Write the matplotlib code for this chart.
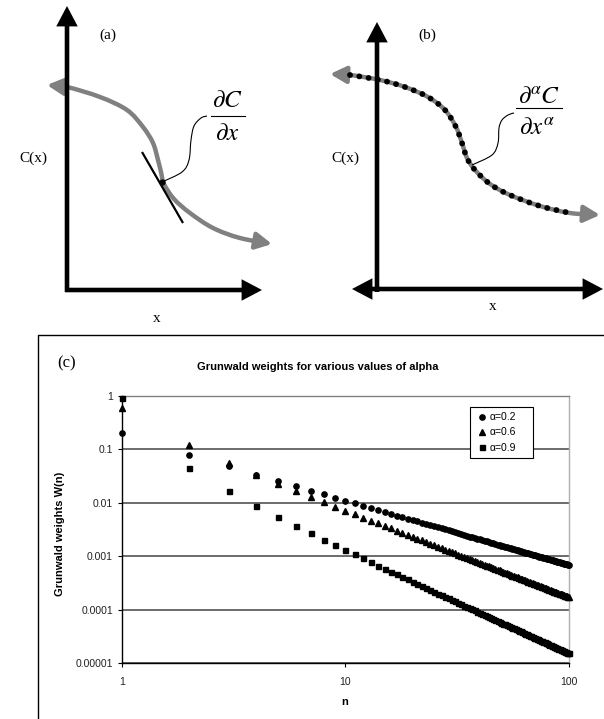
import numpy as np
import matplotlib
matplotlib.use('Agg')
import matplotlib.pyplot as plt
from matplotlib.path import Path
from matplotlib.patches import FancyArrowPatch, PathPatch
from matplotlib.ticker import NullLocator

plt.rcParams['font.family'] = 'Liberation Sans'
plt.rcParams['mathtext.fontset'] = 'stix'
SERIF = 'Liberation Serif'

# ---- panel (c) data: Grunwald weights W(n), n = 1..100 ----
n = np.arange(1, 101)
w_02 = [0.2, 0.08, 0.048, 0.0336, 0.02554, 0.02043, 0.01693, 0.01439, 0.01247, 0.01097,
        0.009776, 0.008799, 0.007987, 0.007302, 0.006718, 0.006214, 0.005775, 0.005390, 0.005050, 0.004747,
        0.004476, 0.004232, 0.004011, 0.003810, 0.003627, 0.003460, 0.003306, 0.003164, 0.003033, 0.002912,
        0.002799, 0.002694, 0.002596, 0.002504, 0.002418, 0.002338, 0.002262, 0.002191, 0.002123, 0.002060,
        0.002000, 0.001943, 0.001889, 0.001837, 0.001788, 0.001741, 0.001697, 0.001654, 0.001614, 0.001575,
        0.001538, 0.001502, 0.001468, 0.001435, 0.001404, 0.001374, 0.001345, 0.001317, 0.001290, 0.001264,
        0.001239, 0.001215, 0.001192, 0.001170, 0.001148, 0.001127, 0.001107, 0.001087, 0.001068, 0.001050,
        0.001032, 0.001015, 0.000998, 0.000982, 0.000966, 0.000951, 0.000936, 0.000922, 0.000908, 0.000894,
        0.000881, 0.000868, 0.000855, 0.000843, 0.000831, 0.000819, 0.000808, 0.000797, 0.000786, 0.000776,
        0.000766, 0.000756, 0.000746, 0.000737, 0.000727, 0.000718, 0.000709, 0.000701, 0.000692, 0.000684]
w_06 = [0.6, 0.12, 0.056, 0.0336, 0.02285, 0.01676, 0.01293, 0.01034, 0.008502, 0.007142,
        0.006103, 0.005289, 0.004638, 0.004108, 0.003670, 0.003303, 0.002992, 0.002726, 0.002496, 0.002297,
        0.002122, 0.001968, 0.001831, 0.001709, 0.001600, 0.001501, 0.001412, 0.001331, 0.001258, 0.001191,
        0.001130, 0.001073, 0.001021, 0.000973, 0.000929, 0.000887, 0.000849, 0.000813, 0.000780, 0.000749,
        0.000720, 0.000693, 0.000667, 0.000642, 0.000619, 0.000598, 0.000577, 0.000558, 0.000540, 0.000523,
        0.000506, 0.000491, 0.000476, 0.000462, 0.000448, 0.000435, 0.000423, 0.000411, 0.000400, 0.000389,
        0.000379, 0.000369, 0.000360, 0.000351, 0.000342, 0.000334, 0.000326, 0.000318, 0.000311, 0.000304,
        0.000297, 0.000291, 0.000284, 0.000278, 0.000272, 0.000266, 0.000261, 0.000256, 0.000250, 0.000245,
        0.000241, 0.000236, 0.000231, 0.000227, 0.000223, 0.000218, 0.000214, 0.000211, 0.000207, 0.000203,
        0.000200, 0.000196, 0.000193, 0.000189, 0.000186, 0.000183, 0.000180, 0.000177, 0.000174, 0.000172]
w_09 = [0.9, 0.045, 0.0165, 0.008663, 0.005371, 0.003670, 0.002674, 0.002039, 0.001608, 0.001303,
        0.001078, 0.000907, 0.000775, 0.000669, 0.000585, 0.000515, 0.000458, 0.000409, 0.000368, 0.000333,
        0.000303, 0.000277, 0.000254, 0.000234, 0.000216, 0.000200, 0.000186, 0.000174, 0.000162, 0.000152,
        0.000143, 0.000134, 0.000127, 0.000119, 0.000113, 0.000107, 0.000102, 9.64e-5, 9.17e-5, 8.74e-5,
        8.33e-5, 7.96e-5, 7.60e-5, 7.28e-5, 6.97e-5, 6.68e-5, 6.41e-5, 6.16e-5, 5.92e-5, 5.69e-5,
        5.48e-5, 5.28e-5, 5.09e-5, 4.91e-5, 4.74e-5, 4.58e-5, 4.43e-5, 4.28e-5, 4.15e-5, 4.02e-5,
        3.89e-5, 3.77e-5, 3.66e-5, 3.55e-5, 3.44e-5, 3.35e-5, 3.25e-5, 3.16e-5, 3.07e-5, 2.99e-5,
        2.91e-5, 2.83e-5, 2.76e-5, 2.69e-5, 2.62e-5, 2.55e-5, 2.49e-5, 2.43e-5, 2.37e-5, 2.32e-5,
        2.26e-5, 2.21e-5, 2.16e-5, 2.11e-5, 2.06e-5, 2.02e-5, 1.97e-5, 1.93e-5, 1.89e-5, 1.85e-5,
        1.81e-5, 1.77e-5, 1.74e-5, 1.70e-5, 1.67e-5, 1.64e-5, 1.60e-5, 1.57e-5, 1.54e-5, 1.51e-5]
series = [('α=0.2', w_02, 'o', 3.8), ('α=0.6', w_06, '^', 4.2), ('α=0.9', w_09, 's', 3.6)]
yticks = [1e-5, 1e-4, 1e-3, 1e-2, 1e-1, 1]
ytick_labels = ['0.00001', '0.0001', '0.001', '0.01', '0.1', '1']
xticks = [1, 10, 100]
xtick_labels = ['1', '10', '100']

# ---- schematic curves for panels (a) and (b), in pixel units ----
curve_a = [(47, 85), (67, 87), (100, 97), (127, 110), (143, 127), (153, 143), (158, 160),
           (161, 172), (164, 184), (174, 199), (190, 213), (213, 228), (240, 238), (272, 244)]
tangent_a = [(142, 152), (183, 223)]
leader_a = [(162, 182), (182, 172), (189, 160), (191, 140), (194, 126), (201, 118), (207, 116)]
curve_b = [(330, 74), (350, 75), (380, 80), (405, 87), (428, 97), (445, 110), (456, 127),
           (462, 143), (467, 158), (475, 170), (490, 184), (510, 195), (540, 206), (570, 213), (600, 215)]
leader_b = [(472, 165), (492, 155), (498, 143), (499, 128), (502, 120), (508, 115), (514, 113)]


def smooth_path(pts):
    p = np.asarray(pts, float)
    ext = np.vstack([p[0], p, p[-1]])
    verts = [p[0]]
    codes = [Path.MOVETO]
    for i in range(1, len(ext) - 2):
        verts += [ext[i] + (ext[i + 1] - ext[i - 1]) / 6,
                  ext[i + 1] - (ext[i + 2] - ext[i]) / 6,
                  ext[i + 1]]
        codes += [Path.CURVE4] * 3
    return Path(verts, codes)


fig = plt.figure(figsize=(6.04, 7.19), dpi=100)
ax0 = fig.add_axes([0, 0, 1, 1])
ax0.set_xlim(0, 604)
ax0.set_ylim(719, 0)
ax0.axis('off')

head = 'head_length=0.95,head_width=0.5'


def arrow(p0, p1, style='-|>', color='black', lw=3.3):
    a = FancyArrowPatch(p0, p1, arrowstyle=style + ',' + head, mutation_scale=10,
                        color=color, lw=lw, shrinkA=0, shrinkB=0, joinstyle='miter',
                        capstyle='butt')
    ax0.add_patch(a)


# panel (a)
ax0.add_patch(FancyArrowPatch(path=smooth_path(curve_a), arrowstyle='<|-|>,' + head,
                              mutation_scale=10, color='#808080', lw=3.2))
arrow((67, 292), (67, 6))
arrow((65, 290), (262, 290))
ax0.plot(*zip(*tangent_a), color='black', lw=1.6, solid_capstyle='butt')
ax0.plot(162, 182, 'o', color='black', ms=3.5)
ax0.add_patch(PathPatch(smooth_path(leader_a), fill=False, lw=0.8, color='black'))
ax0.text(108, 35, '(a)', family=SERIF, fontsize=11, ha='center', va='center')
ax0.text(33, 158, 'C(x)', family=SERIF, fontsize=11, ha='center', va='center')
ax0.text(157, 318, 'x', family=SERIF, fontsize=11, ha='center', va='center')
ax0.text(227, 100, r'$\partial C$', fontsize=18, ha='center', va='center')
ax0.plot([211, 245], [116, 116], color='black', lw=0.8)
ax0.text(227, 133, r'$\partial x$', fontsize=18, ha='center', va='center')

# panel (b)
ax0.add_patch(FancyArrowPatch(path=smooth_path(curve_b), arrowstyle='<|-|>,' + head,
                              mutation_scale=10, color='#808080', lw=3.2))
dot_line = smooth_path(curve_b[1:-1]).to_polygons(closed_only=False)[0]
ax0.plot(dot_line[:, 0], dot_line[:, 1], color='black', lw=4.2,
         linestyle=(0, (0.01, 1.6)), dash_capstyle='round')
arrow((377, 292), (377, 22))
arrow((352, 289), (603, 289), style='<|-|>')
ax0.add_patch(PathPatch(smooth_path(leader_b), fill=False, lw=0.8, color='black'))
ax0.text(427, 35, '(b)', family=SERIF, fontsize=11, ha='center', va='center')
ax0.text(345, 158, 'C(x)', family=SERIF, fontsize=11, ha='center', va='center')
ax0.text(493, 307, 'x', family=SERIF, fontsize=11, ha='center', va='center')
ax0.text(539, 96, r'$\partial^{\alpha} C$', fontsize=18, ha='center', va='center')
ax0.plot([516, 562], [108, 108], color='black', lw=0.8)
ax0.text(537, 127, r'$\partial x^{\alpha}$', fontsize=18, ha='center', va='center')

# panel (c) frame and labels
ax0.plot([38, 38, 610], [725, 335, 335], color='black', lw=1.0)
ax0.text(67, 363, '(c)', family=SERIF, fontsize=12, ha='center', va='center')
ax0.text(318, 367, 'Grunwald weights for various values of alpha', fontsize=8,
         fontweight='bold', ha='center', va='center')
ax0.text(60, 534, 'Grunwald weights W(n)', fontsize=8, fontweight='bold',
         rotation=90, ha='center', va='center')
ax0.text(345, 702, 'n', fontsize=8, fontweight='bold', ha='center', va='center')
ax0.text(415, 492, r'slope  $\rightarrow -(\alpha+1)$', family=SERIF, fontsize=10,
         ha='left', va='center')

ax = fig.add_axes([122 / 604, 56 / 719, 446.7 / 604, 267 / 719])
ax.set_xscale('log')
ax.set_yscale('log')
for label, w, m, ms in series:
    ax.plot(n, w, linestyle='none', marker=m, ms=ms, color='black', label=label,
            clip_on=False, zorder=3)
ax.set_xlim(1, 100)
ax.set_ylim(1e-5, 1)
ax.set_yticks(yticks)
ax.set_yticklabels(ytick_labels)
ax.set_xticks(xticks)
ax.set_xticklabels(xtick_labels)
ax.xaxis.set_minor_locator(NullLocator())
ax.yaxis.set_minor_locator(NullLocator())
ax.yaxis.grid(True, color='#444444', lw=1.1)
ax.tick_params(axis='both', direction='out', length=3, width=0.8, labelsize=7.5,
               colors='black', labelcolor='#222222')
ax.tick_params(axis='x', pad=7)
ax.spines['top'].set_color('#808080')
ax.spines['right'].set_color('#b0b0b0')
for s in ax.spines.values():
    s.set_linewidth(1.0)

leg = ax.legend(loc='upper left', mode='expand',
                bbox_to_anchor=(470 / 604, 1 - 458 / 719, 63 / 604, 51 / 719),
                bbox_transform=fig.transFigure, fancybox=False, edgecolor='black',
                framealpha=1, fontsize=7.5, handlelength=1.3, handletextpad=0.1,
                borderpad=0.5, labelspacing=0.5, borderaxespad=0, numpoints=1)
leg.get_frame().set_linewidth(0.8)

fig.savefig('out.png', dpi=100)
